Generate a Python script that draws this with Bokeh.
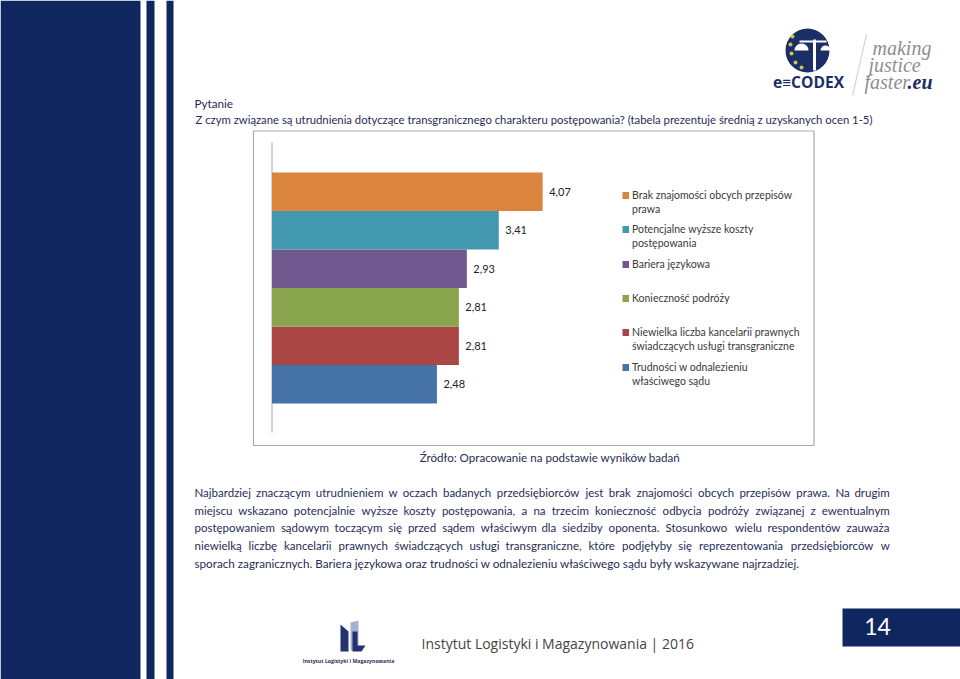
from unicodedata import normalize
from bokeh.plotting import figure
from bokeh.models import Range1d
from bokeh.core.properties import value
from bokeh.embed import file_html
from bokeh.resources import INLINE

# ---- data ----
categories = ["Trudności w odnalezieniu właściwego sądu",
              "Niewielka liczba kancelarii prawnych świadczących usługi transgraniczne",
              "Konieczność podróży", "Bariera językowa",
              "Potencjalne wyższe koszty postępowania",
              "Brak znajomości obcych przepisów prawa"]
values = [2.48, 2.81, 2.81, 2.93, 3.41, 4.07]
labels = ["2,48", "2,81", "2,81", "2,93", "3,41", "4,07"]
colors = ["#4573a7", "#aa4644", "#89a54e", "#71588f", "#4298af", "#db843d"]
legend_lines = [
    (["Brak znajomości  obcych przepisów", "prawa"], 195),
    (["Potencjalne wyższe  koszty", "postępowania"], 229),
    (["Bariera językowa"], 264),
    (["Konieczność podróży"], 298),
    (["Niewielka liczba kancelarii prawnych", "świadczących usługi  transgraniczne"], 332),
    (["Trudności w  odnalezieniu", "właściwego  sądu"], 367),
]
legend_colors = ["#db843d", "#4298af", "#71588f", "#89a54e", "#aa4644", "#4573a7"]
paragraph = [
    "Najbardziej znaczącym utrudnieniem w oczach badanych przedsiębiorców jest brak znajomości obcych przepisów prawa. Na drugim",
    "miejscu wskazano potencjalnie wyższe koszty postępowania, a na trzecim konieczność odbycia podróży związanej z ewentualnym",
    "postępowaniem sądowym toczącym się przed sądem właściwym dla siedziby oponenta. Stosunkowo wielu respondentów zauważa",
    "niewielką liczbę kancelarii prawnych świadczących usługi transgraniczne, które podjęłyby się reprezentowania przedsiębiorców w",
]
paragraph_last = "sporach zagranicznych. Bariera językowa oraz trudności w odnalezieniu właściwego sądu były wskazywane najrzadziej."

NAVY = "#10265f"
TXT = "#1f2d56"
W, H = 960, 679
BASE = 271.5
PXU = 66.5
BAND_TOP = 403.0
BAND = 38.5

p = figure(width=W, height=H, output_backend="svg", toolbar_location=None,
           x_range=Range1d(0, W), y_range=Range1d(H, 0),
           min_border=0, outline_line_color=None, background_fill_color="white")
p.axis.visible = False
p.grid.visible = False
p.extra_x_ranges["val"] = Range1d(-BASE / PXU, (W - BASE) / PXU)
p.extra_y_ranges["idx"] = Range1d((BAND_TOP - H) / BAND, BAND_TOP / BAND)


def txt(x, y, s, size, color=TXT, font="Lato", align="left", style="normal", base="middle"):
    p.text([x], [y], text=[s], text_font=value(font), text_font_size=f"{size}px",
           text_color=color, text_align=align, text_baseline=base, text_font_style=style)


# side stripes and page box
for x0, x1 in [(0, 140), (146, 154), (166, 173)]:
    p.quad(left=[x0], right=[x1], top=[0], bottom=[679], fill_color=NAVY, line_color=None)
p.quad(left=[842], right=[960], top=[608], bottom=[646], fill_color=NAVY, line_color=None)
txt(877, 626, "14", 23, color="white", font="Lato", align="center")

# frame
p.quad(left=[253], right=[813.5], top=[130.5], bottom=[445], fill_color=None, line_color="#ababab", line_width=1.2)
p.line([271.5, 271.5], [142, 432], line_color="#a8a8a8", line_width=1)

# bars through value/index scales
idx = list(range(len(values)))
p.hbar(y=[i + 0.5 for i in idx], right=values, left=0, height=1.0, fill_color=colors, line_color=None,
       x_range_name="val", y_range_name="idx")
p.text(x=values, y=[i + 0.5 for i in idx], text=labels, x_offset=6.5, text_align="left", text_baseline="middle",
       text_font=value("Lato"), text_font_size="11px", text_color="#222222", x_range_name="val", y_range_name="idx")

# legend
for (lines, y), c in zip(legend_lines, legend_colors):
    p.quad(left=[622], right=[628.5], top=[y - 3.5], bottom=[y + 3.5], fill_color=c, line_color=None)
    for k, line in enumerate(lines):
        txt(631.5, y - 1 + k * 14, line, 10.5, color="#3a3a3a")

# heading
txt(194, 102, "Pytanie", 11.7)
txt(195, 119, "Z czym związane są utrudnienia dotyczące transgranicznego charakteru postępowania? (tabela prezentuje średnią z uzyskanych ocen 1-5)", 11.3)
txt(549.5, 456.5, "Źródło: Opracowanie na podstawie wyników badań", 11.6, align="center")

# justified body text, word by word
CW = dict(a=.51, b=.56, c=.47, d=.56, e=.53, f=.33, g=.51, h=.55, i=.24, j=.24, k=.5, l=.24, m=.82, n=.55, o=.58,
          p=.56, q=.56, r=.37, s=.43, t=.35, u=.55, v=.5, w=.76, x=.49, y=.5, z=.45)


def cw(ch):
    base = normalize("NFD", ch)[0]
    if base == "ł":
        return .27
    if base in ".,;:":
        return .22
    if base.isupper():
        return .66
    return CW.get(base, .5)


def justified(line, y, x0, x1, size):
    words = line.split(" ")
    widths = [sum(cw(c) for c in w) * size for w in words]
    gap = (x1 - x0 - sum(widths)) / (len(words) - 1)
    x = x0
    for w, wd in zip(words, widths):
        txt(x, y, w, size)
        x += wd + gap


for i, line in enumerate(paragraph):
    justified(line, 492 + i * 17.7, 194, 889, 11.5)
txt(194, 562, paragraph_last, 11.7)

# footer
txt(421, 642.5, "Instytut Logistyki i Magazynowania | 2016", 14, color="#444444", font="Open Sans")
p.patch([340, 347, 347, 350, 350, 358, 358, 353, 353, 348], [625, 631, 650, 650, 622, 620, 646, 646, 650, 650],
        fill_color="#a9b0cf", line_color=None)
p.patch([340, 348, 348, 340], [624, 631, 651, 651], fill_color="#24336f", line_color=None)
p.patch([352, 357, 357, 365, 361, 352], [631, 631, 645, 645, 651, 651], fill_color="#24336f", line_color=None)
txt(348, 660, "Instytut Logistyki i Magazynowania", 5.2, color="#2e3358", align="center", style="bold", font="Open Sans")

# e-CODEX logo
p.scatter([807], [50], size=44, marker="circle", fill_color="#1b2f66", line_color=None)
p.scatter([792, 790, 791, 795, 801], [36, 44, 53, 62, 67], size=4, marker="circle", fill_color="#d8c04c", line_color=None)
p.line([799, 826], [41, 41], line_color="white", line_width=2)
p.line([814, 814], [39, 70], line_color="white", line_width=3)
p.wedge([801], [50], radius=7, start_angle=0, end_angle=3.1416, fill_color="white", line_color=None)
p.wedge([825], [50], radius=5, start_angle=0, end_angle=3.1416, fill_color="white", line_color=None)
txt(808, 81.5, "e≡CODEX", 15.6, color="#1b2f66", align="center", font="Open Sans", style="bold")
p.line([866, 852], [34, 95], line_color="#d4d4d4", line_width=1.2)
for s, x, y in [("making", 872, 47), ("justice", 868, 64), ("faster", 864, 81)]:
    txt(x, y, s, 20, color="#8e8e8e", font="Liberation Serif", style="italic")
txt(907, 81, ".eu", 20, color="#1b2f66", font="Liberation Serif", style="bold italic")

open("out.html", "w").write(file_html(p, INLINE))
